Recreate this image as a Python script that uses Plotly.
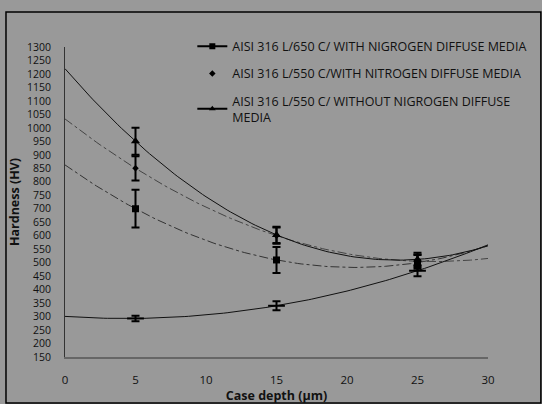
import numpy as np
import plotly.graph_objects as go

# ---- data ----
depth = [5, 15, 25]

names = [
    "AISI 316 L/650 C/ WITH NIGROGEN DIFFUSE MEDIA",
    "AISI 316 L/550 C/WITH NITROGEN DIFFUSE MEDIA",
    "AISI 316 L/550 C/ WITHOUT NIGROGEN DIFFUSE<br>MEDIA",
]

hv_650_with = [700, 510, 500]
err_650_with = [70, 48, 28]

hv_550_with = [850, 600, 505]
err_550_with = [45, 30, 25]

hv_550_without = [950, 603, 512]
err_550_without = [50, 30, 25]

hv_untreated = [293, 340, 470]
err_untreated = [10, 17, 20]

x_ticks = [0, 5, 10, 15, 20, 25, 30]
y_ticks = list(range(150, 1301, 50))

# ---- figure ----
fig = go.Figure()
xs = np.linspace(0, 30, 121)

def trend(vals, dash, color, width=1):
    c = np.polyfit(depth, vals, 2)
    fig.add_trace(go.Scatter(x=xs, y=np.polyval(c, xs), mode="lines",
                             line=dict(color=color, width=width, dash=dash),
                             showlegend=False, hoverinfo="skip"))

trend(hv_650_with, "dashdot", "#333333")
trend(hv_550_with, "dashdot", "#444444")
trend(hv_550_without, "solid", "#111111")
trend(hv_untreated, "solid", "#111111")

def pts(vals, errs, symbol, size):
    fig.add_trace(go.Scatter(x=depth, y=vals, mode="markers",
                             marker=dict(symbol=symbol, size=size, color="black",
                                         line=dict(color="black", width=2 if symbol == "line-ew" else 0)),
                             error_y=dict(type="data", array=errs, color="black",
                                          thickness=2, width=4),
                             showlegend=False))

pts(hv_650_with, err_650_with, "square", 7)
pts(hv_550_with, err_550_with, "diamond", 5)
pts(hv_550_without, err_550_without, "triangle-up", 8)
pts(hv_untreated, err_untreated, "line-ew", 12)

# legend entries
fig.add_trace(go.Scatter(x=[None], y=[None], mode="lines+markers", name=names[0],
                         line=dict(color="black", width=2),
                         marker=dict(symbol="square", size=6, color="black"),
                         legendgroup="a"))
fig.add_trace(go.Scatter(x=[None], y=[None], mode="markers", name=names[1],
                         marker=dict(symbol="diamond", size=5, color="black"),
                         legendgroup="b"))
fig.add_trace(go.Scatter(x=[None], y=[None], mode="lines+markers", name=names[2],
                         line=dict(color="black", width=2),
                         marker=dict(symbol="triangle-up", size=6, color="black"),
                         legendgroup="c"))

font_family = "Open Sans, Noto Sans, sans-serif"

fig.update_layout(
    width=542, height=404,
    margin=dict(l=65, r=54, t=47, b=47, autoexpand=False),
    paper_bgcolor="#999999",
    plot_bgcolor="#999999",
    font=dict(family=font_family, size=11.5, color="#111111"),
    showlegend=True,
    legend=dict(x=0.301, y=1.05, xanchor="left", yanchor="top",
                bgcolor="rgba(0,0,0,0)", font=dict(size=12.5, color="#111111"),
                traceorder="grouped", tracegroupgap=8, itemwidth=30),
    xaxis=dict(range=[0, 30], tickvals=x_ticks, showgrid=False, zeroline=False,
               showline=True, linecolor="#666666", linewidth=1.5,
               ticks="", ticklabelstandoff=11, tickfont=dict(size=11.5),
               automargin=False,
               title=dict(text="<b>Case depth (µm)</b>", font=dict(size=12.5), standoff=5)),
    yaxis=dict(range=[150, 1300], tickvals=y_ticks, showgrid=False, zeroline=False,
               showline=True, linecolor="#333333", linewidth=1,
               ticks="", ticklabelstandoff=11, tickfont=dict(size=10.5),
               automargin=False,
               title=dict(text="<b>Hardness (HV)</b>", font=dict(size=12.5), standoff=4)),
    shapes=[dict(type="rect", xref="paper", yref="paper",
                 x0=-0.1395, x1=1.125, y0=-0.148, y1=1.113,
                 line=dict(color="black", width=1.5))],
)

fig.write_html("out.html",
               config={"displayModeBar": False},
               post_script="document.body.style.margin='0';document.body.style.background='#999999';")
